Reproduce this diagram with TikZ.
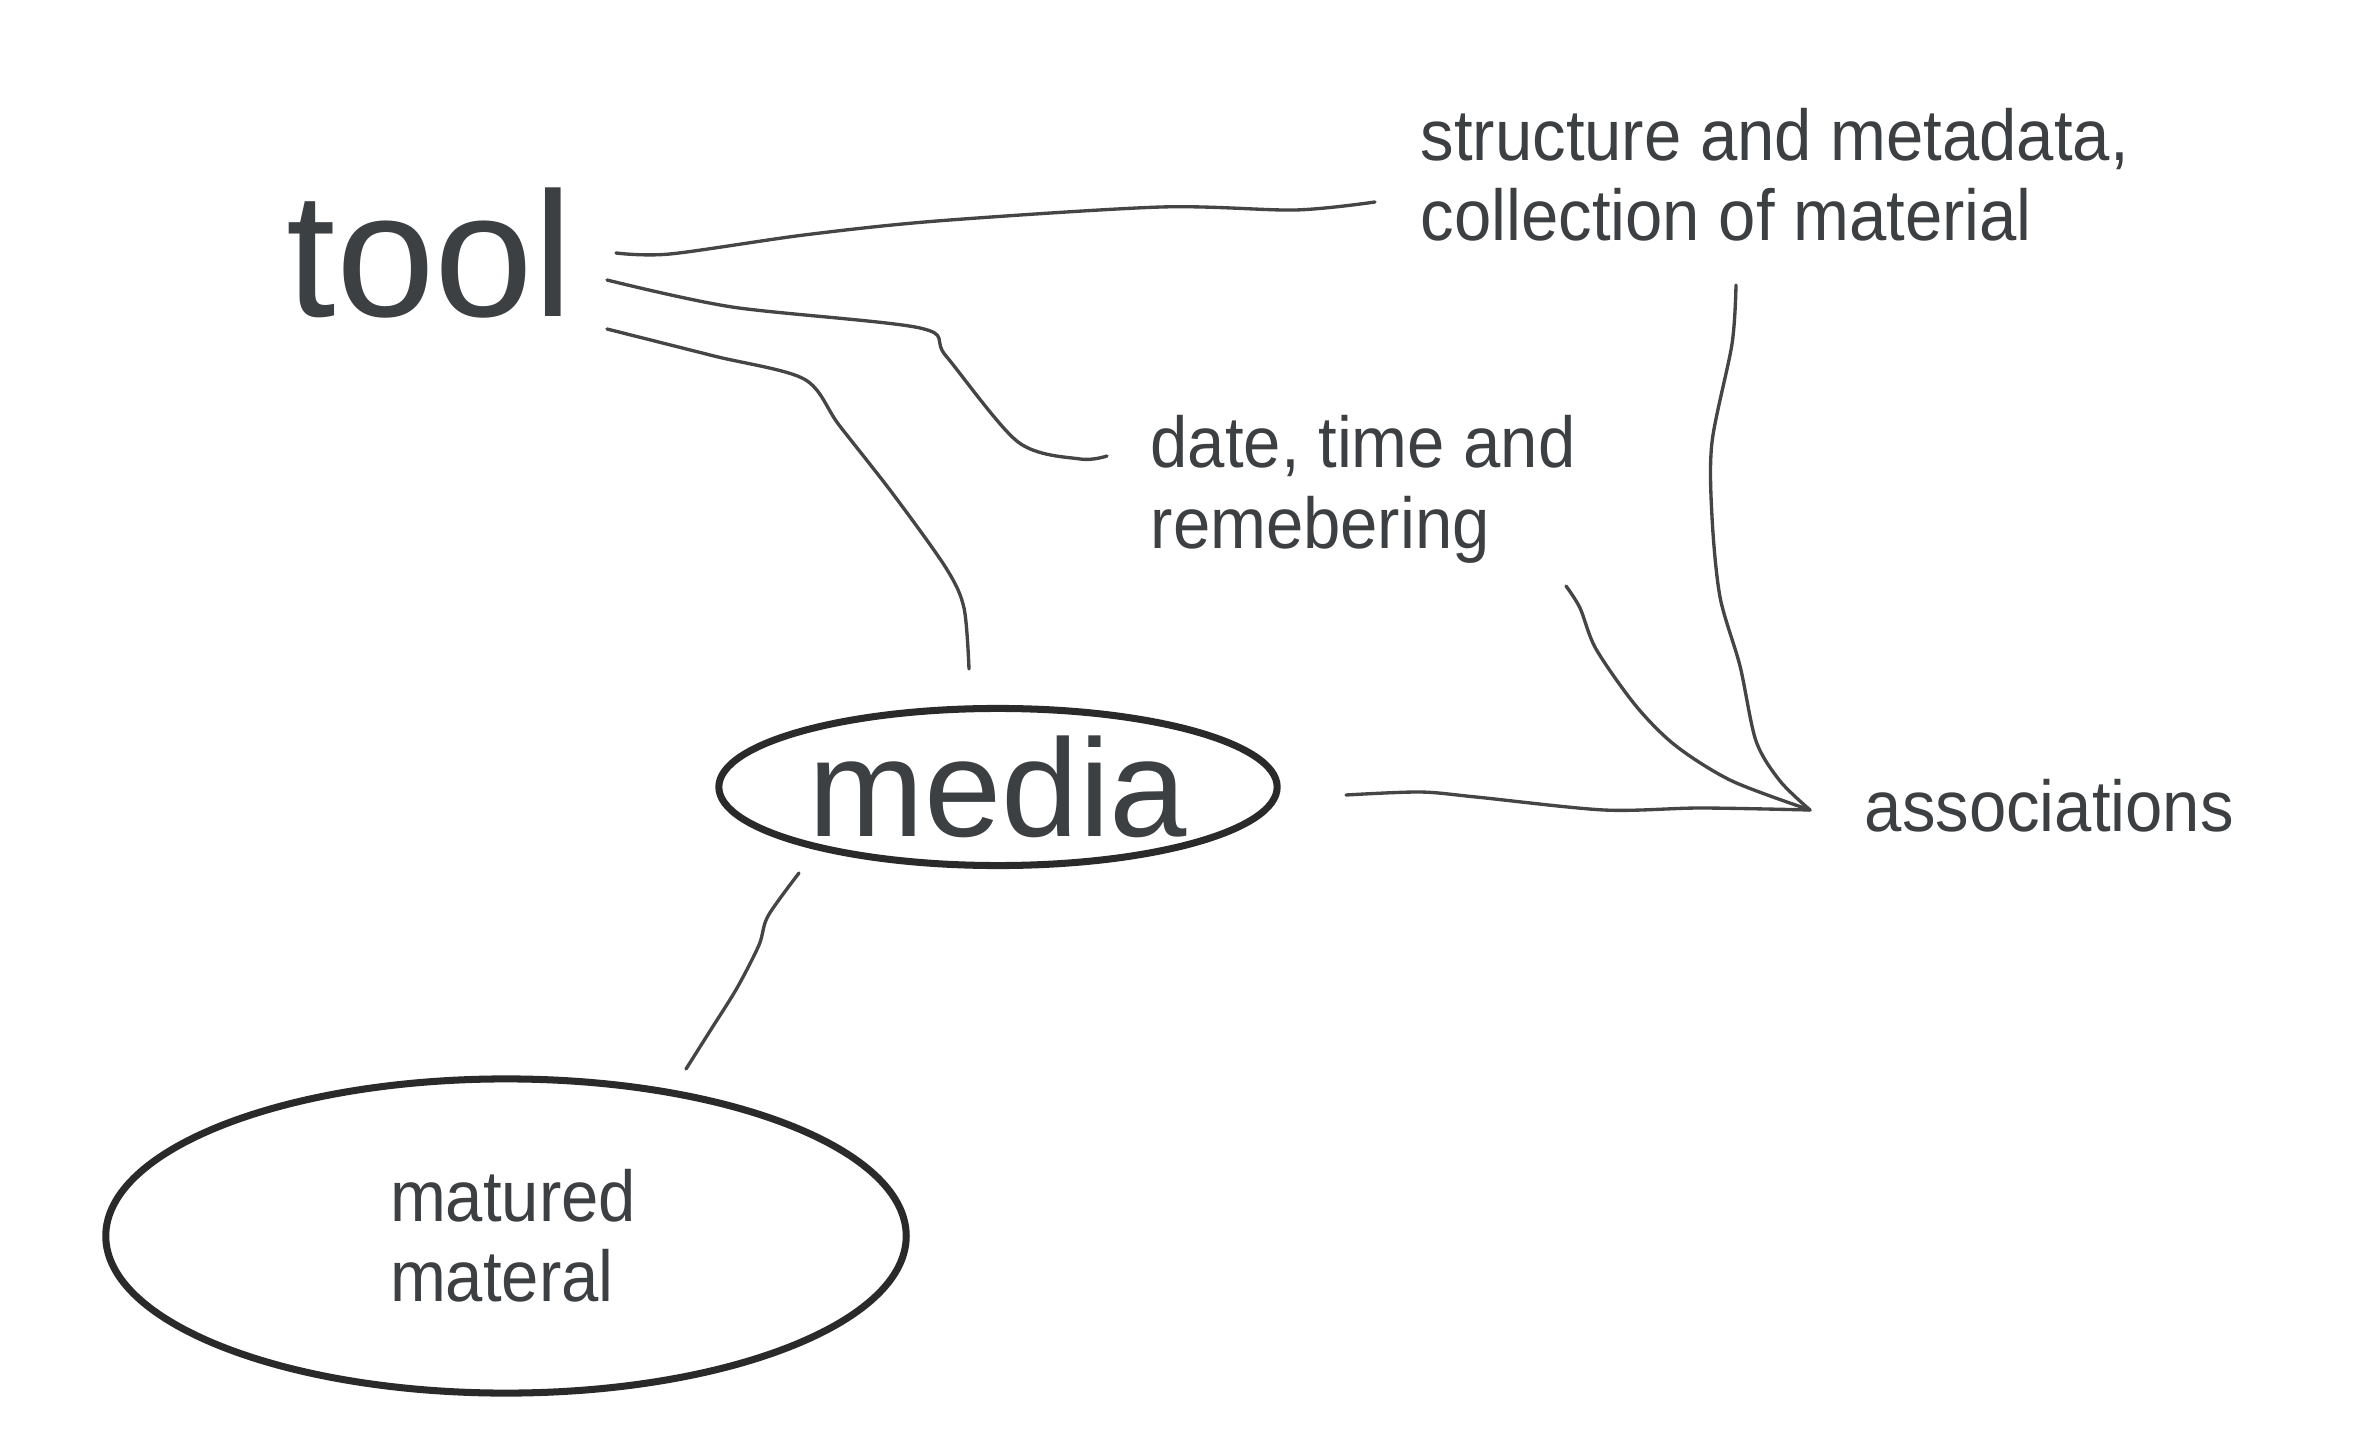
\documentclass[tikz,border=0pt]{standalone}
\usepackage{fontspec}
\setmainfont[FakeStretch=0.93]{Liberation Sans}
\newfontfamily\plainsans{Liberation Sans}
\usetikzlibrary{shapes.geometric}
\definecolor{txt}{HTML}{3C4043}
\definecolor{ink}{HTML}{454545}
\definecolor{rim}{HTML}{2A2A2A}
\tikzset{
  lbl/.style={inner sep=0pt, anchor=base west, text=txt, align=left, font=\fontsize{20.5}{22.8}\selectfont},
  conn/.style={draw=ink, line width=0.95pt, line cap=round, line join=round},
  oval/.style={ellipse, draw=rim, line width=2pt, text=txt, inner sep=0pt}
}
\begin{document}
\begin{tikzpicture}[x=0.01cm,y=-0.01cm]
\fill[white] (0,0) rectangle (2354,1452);
\useasboundingbox (0,0) rectangle (2354,1452);

% nodes
\node[lbl, font=\plainsans\fontsize{50.5}{60}\selectfont] (tool) at (286,317) {tool};
\node[lbl] (struct) at (1420,241) {structure and metadata,\\collection of material};
\node[lbl] (date) at (1150,548) {date, time and\\remebering};
\node[lbl] (assoc) at (1864,831) {associations};
\node[oval, minimum width=5.58cm, minimum height=1.57cm, font=\plainsans\fontsize{39.5}{48}\selectfont] (media) at (998,787) {media};
\node[oval, minimum width=8cm, minimum height=3.14cm, align=left, font=\fontsize{20.5}{22.8}\selectfont] (mat) at (506,1236) {\hspace*{0.14cm}matured\\\hspace*{0.14cm}materal};

% connector ends
\coordinate (t1) at (616,253);
\coordinate (t2) at (607,280);
\coordinate (t3) at (607,329);
\coordinate (s1) at (1375,202);
\coordinate (s2) at (1736,285);
\coordinate (d1) at (1107,456);
\coordinate (d2) at (1566,586);
\coordinate (m1) at (969,669);
\coordinate (m2) at (1346,795);
\coordinate (m3) at (799,873);
\coordinate (a1) at (1810,810);
\coordinate (q1) at (686,1069);

% connectors
\draw[conn] plot[smooth,tension=0.5] coordinates {(t1) (670,254) (804,235) (937,221) (1161,207) (1295,210) (s1)};
\draw[conn] plot[smooth,tension=0.5] coordinates {(t2) (732,307) (920,328) (946,356) (1018,442) (1080,459) (d1)};
\draw[conn] plot[smooth,tension=0.5] coordinates {(t3) (714,356) (804,379) (839,425) (893,494) (946,568) (964,608) (m1)};
\draw[conn] plot[smooth,tension=0.5] coordinates {(m2) (1420,792) (1476,797) (1604,810) (1700,808) (a1)};
\draw[conn] plot[smooth,tension=0.5] coordinates {(s2) (1732,344) (1712,442) (1712,517) (1720,597) (1740,666) (1756,741) (1780,781) (a1)};
\draw[conn] plot[smooth,tension=0.5] coordinates {(d2) (1580,608) (1596,649) (1636,706) (1676,746) (1732,781) (a1)};
\draw[conn] plot[smooth,tension=0.5] coordinates {(m3) (768,916) (759,945) (737,988) (710,1031) (q1)};
\end{tikzpicture}
\end{document}
